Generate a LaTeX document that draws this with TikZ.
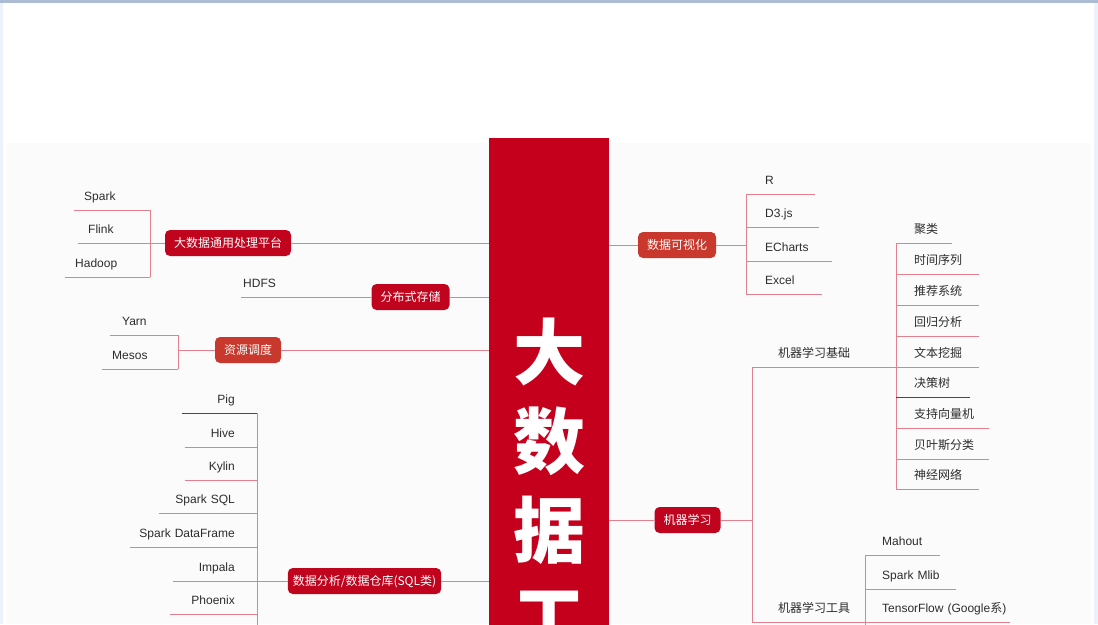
\documentclass[tikz,border=0pt]{standalone}
\usepackage{fontspec}
\setmainfont{Liberation Sans}
\newfontfamily\cjk{Noto Sans CJK SC}
\usepackage{xcolor}
\usepackage{tikz}
\usetikzlibrary{positioning,calc}

\definecolor{coreRed}{RGB}{197,0,28}
\definecolor{topicRed}{RGB}{192,4,30}
\definecolor{topicOrange}{RGB}{200,56,44}
\definecolor{branchPink}{RGB}{226,128,142}
\definecolor{branchDark}{RGB}{150,36,58}
\definecolor{leafText}{RGB}{45,45,45}
\definecolor{frameBlue}{RGB}{172,188,212}
\definecolor{frameSide}{RGB}{236,242,250}
\definecolor{panelGray}{RGB}{251,251,252}

\begin{document}
\begin{tikzpicture}[
    x=1pt, y=-1pt,
    core/.style={rectangle, fill=coreRed, anchor=north, minimum width=120pt, minimum height=520pt, inner sep=0pt},
    title/.style={text=white, font=\cjk\bfseries\fontsize{72}{72}\selectfont, inner sep=0pt},
    topic/.style={rectangle, rounded corners=5pt, fill=topicRed, text=white, font=\cjk\fontsize{12}{14}\selectfont, minimum height=26pt, inner xsep=9pt, text height=10pt, text depth=1pt},
    leaf/.style={anchor=south west, inner sep=0pt, align=left, text=leafText, font=\fontsize{12}{14}\selectfont, text height=9pt, text depth=9pt, execute at begin node={\hspace*{#1}}},
    sqlleaf/.style={anchor=south east, inner sep=0pt, align=right, text=leafText, font=\fontsize{12}{14}\selectfont, text height=9pt, text depth=9pt, execute at end node={\hspace*{22pt}}},
    zh/.style={font=\cjk\fontsize{12}{14}\selectfont},
    branch/.style={draw=branchPink, line width=0.8pt}
]

% Page
\clip (0,0) rectangle (1098,624);
\fill[white] (0,0) rectangle (1098,624);
\fill[panelGray] (7,143) rectangle (1091,624);
\fill[frameSide] (0,0) rectangle (3,624);
\fill[frameSide] (1094,0) rectangle (1098,624);
\fill[frameBlue] (0,0) rectangle (1098,2.5);

% Centre
\node[core] (core) at (549,138) {};
\node[title] (tDa) at (549,352) {大};
\node[title] (tShu) at (549,441) {数};
\node[title] (tJu) at (549,530) {据};
\node[title] (tGong) at (549,619) {工};

% Left: processing platforms
\node[topic] (platform) at (228,243) {大数据通用处理平台};
\node[leaf=10pt, text width=76pt] (spark) at (74,210) {Spark};
\node[leaf=10pt, text width=72pt] (flink) at (78,243) {Flink};
\node[leaf=10pt, text width=85pt] (hadoop) at (65,277) {Hadoop};

% Left: storage
\node[topic] (storage) at (410.5,297) {分布式存储};
\node[leaf=2pt, text width=130pt] (hdfs) at (241,297) {HDFS};

% Left: scheduling
\node[topic, fill=topicOrange] (sched) at (248,350) {资源调度};
\node[leaf=12pt, text width=68pt] (yarn) at (110,335) {Yarn};
\node[leaf=10pt, text width=76pt] (mesos) at (102,369) {Mesos};

% Left: SQL
\node[topic, inner xsep=5pt] (sql) at (364.5,581) {数据分析/数据仓库(SQL类)};
\node[sqlleaf, text width=75pt] (pig) at (257,413) {Pig};
\node[sqlleaf, text width=72pt] (hive) at (257,447) {Hive};
\node[sqlleaf, text width=72pt] (kylin) at (257,480) {Kylin};
\node[sqlleaf, text width=98pt] (sparksql) at (257,513) {Spark SQL};
\node[sqlleaf, text width=127pt] (dataframe) at (257,547) {Spark DataFrame};
\node[sqlleaf, text width=84pt] (impala) at (257,581) {Impala};
\node[sqlleaf, text width=87pt] (phoenix) at (257,614) {Phoenix};
\coordinate (sqlEnd) at (257,640);

% Right: visualisation
\node[topic, fill=topicOrange] (viz) at (677,245) {数据可视化};
\node[leaf=19pt, text width=69pt] (r) at (746,194) {R};
\node[leaf=19pt, text width=73pt] (d3) at (746,227) {D3.js};
\node[leaf=19pt, text width=86pt] (echarts) at (746,261) {ECharts};
\node[leaf=19pt, text width=76pt] (excel) at (746,294) {Excel};

% Right: machine learning
\node[topic] (ml) at (687.5,520) {机器学习};
\node[leaf=26pt, zh, text width=144pt] (mlBasic) at (752,367) {机器学习基础};
\node[leaf=26pt, zh, text width=113pt] (mlTools) at (752,622) {机器学习工具};

\node[leaf=18pt, zh, text width=56pt] (julei) at (896,243) {聚类};
\node[leaf=18pt, zh, text width=83pt] (shixu) at (896,274) {时间序列};
\node[leaf=18pt, zh, text width=83pt] (tuijian) at (896,305) {推荐系统};
\node[leaf=18pt, zh, text width=83pt] (huigui) at (896,336) {回归分析};
\node[leaf=18pt, zh, text width=83pt] (wenben) at (896,367) {文本挖掘};
\node[leaf=18pt, zh, text width=74pt] (juece) at (896,397) {决策树};
\node[leaf=18pt, zh, text width=93pt] (svm) at (896,428) {支持向量机};
\node[leaf=18pt, zh, text width=93pt] (bayes) at (896,459) {贝叶斯分类};
\node[leaf=18pt, zh, text width=83pt] (shenjing) at (896,489) {神经网络};

\node[leaf=17pt, text width=75pt] (mahout) at (865,555) {Mahout};
\node[leaf=17pt, text width=91pt] (mllib) at (865,589) {Spark Mlib};
\node[leaf=17pt, text width=145pt] (tensorflow) at (865,622) {TensorFlow (Google{\cjk 系})};
\coordinate (toolEnd) at (865,640);

% Connections
\draw[branch] (platform.east) -- (platform.east -| core.west);
\draw[branch] (storage.east) -- (storage.east -| core.west);
\draw[branch] (sched.east) -- (sched.east -| core.west);
\draw[branch] (sql.east) -- (sql.east -| core.west);
\draw[branch] (core.east |- viz.west) -- (viz.west);
\draw[branch] (core.east |- ml.west) -- (ml.west);

\draw[branch] (platform.west) -- (flink.south east);
\draw[branch] (spark.south east) -- (hadoop.south east);
\draw[branch] (hdfs.south east) -- (storage.west);
\draw[branch] (sched.west) -- (sched.west -| yarn.south east);
\draw[branch] (yarn.south east) -- (mesos.south east);
\draw[branch] (impala.south east) -- (sql.west);
\draw[branch] (pig.south east) -- (sqlEnd);

\draw[branch] (viz.east) -- (viz.east -| r.south west);
\draw[branch] (r.south west) -- (excel.south west);
\draw[branch] (ml.east) -- (ml.east -| mlBasic.south west);
\draw[branch] (mlBasic.south west) -- (mlTools.south west);
\draw[branch] (julei.south west) -- (shenjing.south west);
\draw[branch] (mahout.south west) -- (toolEnd);

% Underlines
\foreach \leafname in {spark,flink,hadoop,hdfs,yarn,mesos,hive,kylin,sparksql,dataframe,impala,phoenix,r,d3,echarts,excel,mlBasic,mlTools,julei,shixu,tuijian,huigui,wenben,svm,bayes,shenjing,mahout,mllib,tensorflow}
    \draw[branch] (\leafname.south west) -- (\leafname.south east);
\draw[branch, draw=branchDark] (pig.south west) -- (pig.south east);
\draw[branch, draw=branchDark] (juece.south west) -- (juece.south east);

\end{tikzpicture}
\end{document}
